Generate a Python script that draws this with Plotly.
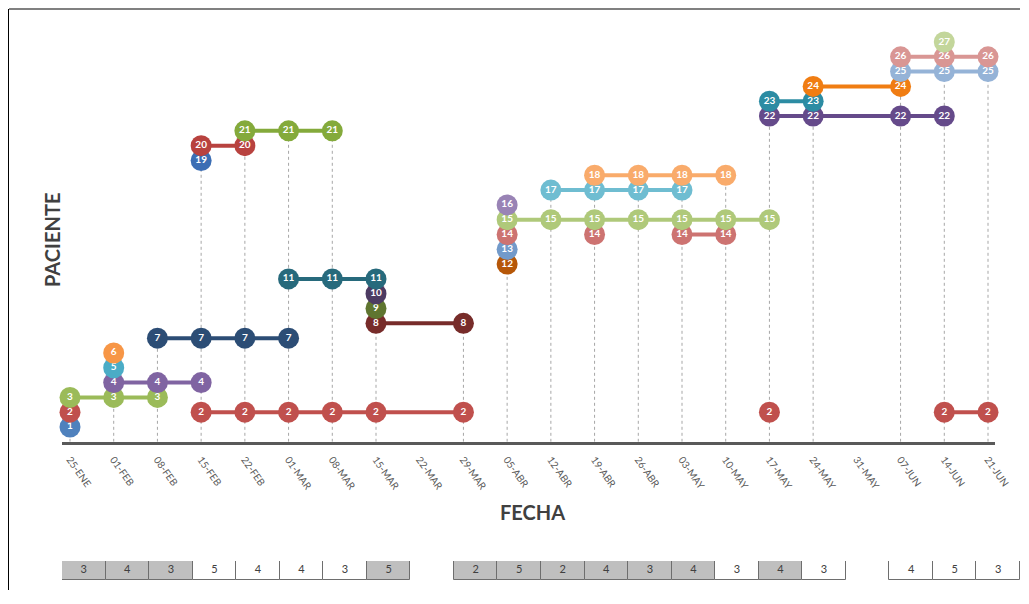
import plotly.graph_objects as go

# ---------------- data ----------------
dates = ["25-ENE", "01-FEB", "08-FEB", "15-FEB", "22-FEB", "01-MAR", "08-MAR",
         "15-MAR", "22-MAR", "29-MAR", "05-ABR", "12-ABR", "19-ABR", "26-ABR",
         "03-MAY", "10-MAY", "17-MAY", "24-MAY", "31-MAY", "07-JUN", "14-JUN",
         "21-JUN"]

# visit segments per patient (consecutive dates in a segment are joined by a line)
p01 = [["25-ENE"]]
p02 = [["25-ENE"], ["15-FEB", "22-FEB", "01-MAR", "08-MAR", "15-MAR", "29-MAR"],
       ["17-MAY"], ["14-JUN", "21-JUN"]]
p03 = [["25-ENE", "01-FEB", "08-FEB"]]
p04 = [["01-FEB", "08-FEB", "15-FEB"]]
p05 = [["01-FEB"]]
p06 = [["01-FEB"]]
p07 = [["08-FEB", "15-FEB", "22-FEB", "01-MAR"]]
p08 = [["15-MAR", "29-MAR"]]
p09 = [["15-MAR"]]
p10 = [["15-MAR"]]
p11 = [["01-MAR", "08-MAR", "15-MAR"]]
p12 = [["05-ABR"]]
p13 = [["05-ABR"]]
p14 = [["05-ABR"], ["19-ABR"], ["03-MAY", "10-MAY"]]
p15 = [["05-ABR", "12-ABR", "19-ABR", "26-ABR", "03-MAY", "10-MAY", "17-MAY"]]
p16 = [["05-ABR"]]
p17 = [["12-ABR", "19-ABR", "26-ABR", "03-MAY"]]
p18 = [["19-ABR", "26-ABR", "03-MAY", "10-MAY"]]
p19 = [["15-FEB"]]
p20 = [["15-FEB", "22-FEB"]]
p21 = [["22-FEB", "01-MAR", "08-MAR"]]
p22 = [["17-MAY", "24-MAY", "07-JUN", "14-JUN"]]
p23 = [["17-MAY", "24-MAY"]]
p24 = [["24-MAY", "07-JUN"]]
p25 = [["07-JUN", "14-JUN", "21-JUN"]]
p26 = [["07-JUN", "14-JUN", "21-JUN"]]
p27 = [["14-JUN"]]

patients = [p01, p02, p03, p04, p05, p06, p07, p08, p09, p10, p11, p12, p13, p14,
            p15, p16, p17, p18, p19, p20, p21, p22, p23, p24, p25, p26, p27]

colors = ["#4F81BD", "#C0504D", "#9BBB59", "#8064A2", "#4BACC6", "#F79646",
          "#2C4D75", "#772C2A", "#5F7530", "#4D3B62", "#276A7C", "#B65708",
          "#729ACA", "#CD7371", "#AFC97A", "#9983B5", "#6FBDD1", "#F9AB6B",
          "#3C6EB4", "#B8423F", "#84AA3B", "#654A8A", "#2C8CA3", "#F07D13",
          "#95B3D7", "#D99694", "#C3D69B"]

# table below the chart
table_dates = ["25-ENE", "01-FEB", "08-FEB", "15-FEB", "22-FEB", "01-MAR", "08-MAR",
               "15-MAR", "29-MAR", "05-ABR", "12-ABR", "19-ABR", "26-ABR",
               "03-MAY", "10-MAY", "17-MAY", "24-MAY", "07-JUN", "14-JUN", "21-JUN"]
table_counts = [3, 4, 3, 5, 4, 4, 3, 5, 2, 5, 2, 4, 3, 4, 3, 4, 3, 4, 5, 3]
table_shaded = [1, 1, 1, 0, 0, 0, 0, 1, 1, 1, 1, 1, 1, 1, 0, 1, 0, 0, 0, 0]

# ---------------- figure ----------------
# the page body adds an 8px margin, so the figure is offset by 8px;
# keep the figure small enough that the page never scrolls
OFF = 8
W, H = 1012, 582
L, T = 62 - OFF, 42 - OFF
R = W - (1020 - OFF)
B = H - (580 - OFF)
pw, ph = W - L - R, H - T - B


def px_x(p):  # reference pixel -> paper x
    return (p - OFF - L) / pw


def px_y(p):  # reference pixel -> paper y
    return (H - B - (p - OFF)) / ph


fig = go.Figure()

# drop lines (from highest point of each date down to the axis)
top = {}
for num, segs in enumerate(patients, start=1):
    for seg in segs:
        for d in seg:
            top[d] = max(top.get(d, 0), num)
dx, dy = [], []
for d in dates:
    if d in top:
        dx += [d, d, None]
        dy += [0, top[d], None]
fig.add_trace(go.Scatter(x=dx, y=dy, mode="lines", hoverinfo="skip",
                         line=dict(color="#A6A6A6", width=1, dash="3px,3px"),
                         showlegend=False))

# patients
for num, segs in enumerate(patients, start=1):
    xs, ys, ts = [], [], []
    for seg in segs:
        xs += seg + [None]
        ys += [num] * len(seg) + [None]
        ts += [str(num)] * len(seg) + [""]
    fig.add_trace(go.Scatter(
        x=xs, y=ys, text=ts, mode="lines+markers+text",
        line=dict(color=colors[num - 1], width=4),
        marker=dict(color=colors[num - 1], size=21, line=dict(width=0)),
        textposition="middle center",
        textfont=dict(color="white", size=10, family="Lato", weight="bold"),
        connectgaps=False, cliponaxis=False, showlegend=False, name=str(num)))

# table cells
fig.add_trace(go.Bar(
    x=table_dates, y=[1] * len(table_dates), base=0, width=1,
    marker=dict(color=["#BFBFBF" if s else "#FFFFFF" for s in table_shaded],
                line=dict(color="#6E6E6E", width=1)),
    cliponaxis=False,
    xaxis="x2", yaxis="y2", showlegend=False, hoverinfo="skip"))
fig.add_trace(go.Scatter(
    x=table_dates, y=[0.5] * len(table_dates), text=[str(c) for c in table_counts],
    mode="text", textfont=dict(color="#404040", size=11, family="Lato"),
    xaxis="x2", yaxis="y2", showlegend=False, hoverinfo="skip", cliponaxis=False))

main_right = 995
step = 43.71
x0 = 70
fig.update_layout(
    width=W, height=H, autosize=False,
    margin=dict(l=L, r=R, t=T, b=B, pad=0),
    paper_bgcolor="white", plot_bgcolor="rgba(0,0,0,0)",
    font=dict(family="Lato", color="#595959"),
    bargap=0,
    xaxis=dict(
        domain=[0, px_x(main_right)],
        type="category", categoryorder="array", categoryarray=dates,
        range=[(62 - x0) / step, 21 + (main_right - 988) / step],
        showline=True, linewidth=3, linecolor="#595959",
        showgrid=False, zeroline=False, ticks="", automargin=False,
        tickangle=55, tickfont=dict(size=10, color="#595959"),
        ticklabelstandoff=5,
    ),
    yaxis=dict(
        domain=[px_y(441.8), 1], range=[0, 27], automargin=False,
        showticklabels=False, zeroline=False, showline=False,
        tickvals=[27], showgrid=True, gridcolor="#D9D9D9", gridwidth=1.5,
    ),
    xaxis2=dict(
        domain=[0, 1], anchor="y2", automargin=False,
        type="category", categoryorder="array", categoryarray=dates,
        range=[-0.5, 21.5], showticklabels=False, showgrid=False,
        zeroline=False, showline=False, ticks="",
    ),
    yaxis2=dict(
        domain=[0, px_y(561)], range=[0, 1], anchor="x2", automargin=False,
        showticklabels=False, showgrid=False, zeroline=False, showline=False,
    ),
    annotations=[
        dict(text="FECHA", xref="paper", yref="paper", x=px_x(532), y=px_y(512),
             showarrow=False, xanchor="center", yanchor="middle",
             font=dict(size=20, color="#404040", family="Lato", weight="bold")),
        dict(text="PACIENTE", xref="paper", yref="paper", x=px_x(52), y=px_y(240),
             showarrow=False, xanchor="center", yanchor="middle", textangle=-90,
             font=dict(size=20, color="#404040", family="Lato", weight="bold")),
    ],
    shapes=[
        dict(type="line", xref="paper", yref="paper", x0=px_x(9), x1=px_x(1020),
             y0=px_y(9), y1=px_y(9), line=dict(color="#808080", width=2)),
        dict(type="line", xref="paper", yref="paper", x0=px_x(8.5), x1=px_x(8.5),
             y0=px_y(9), y1=px_y(590), line=dict(color="#000000", width=1)),
    ],
)

fig.write_html("out.html")
